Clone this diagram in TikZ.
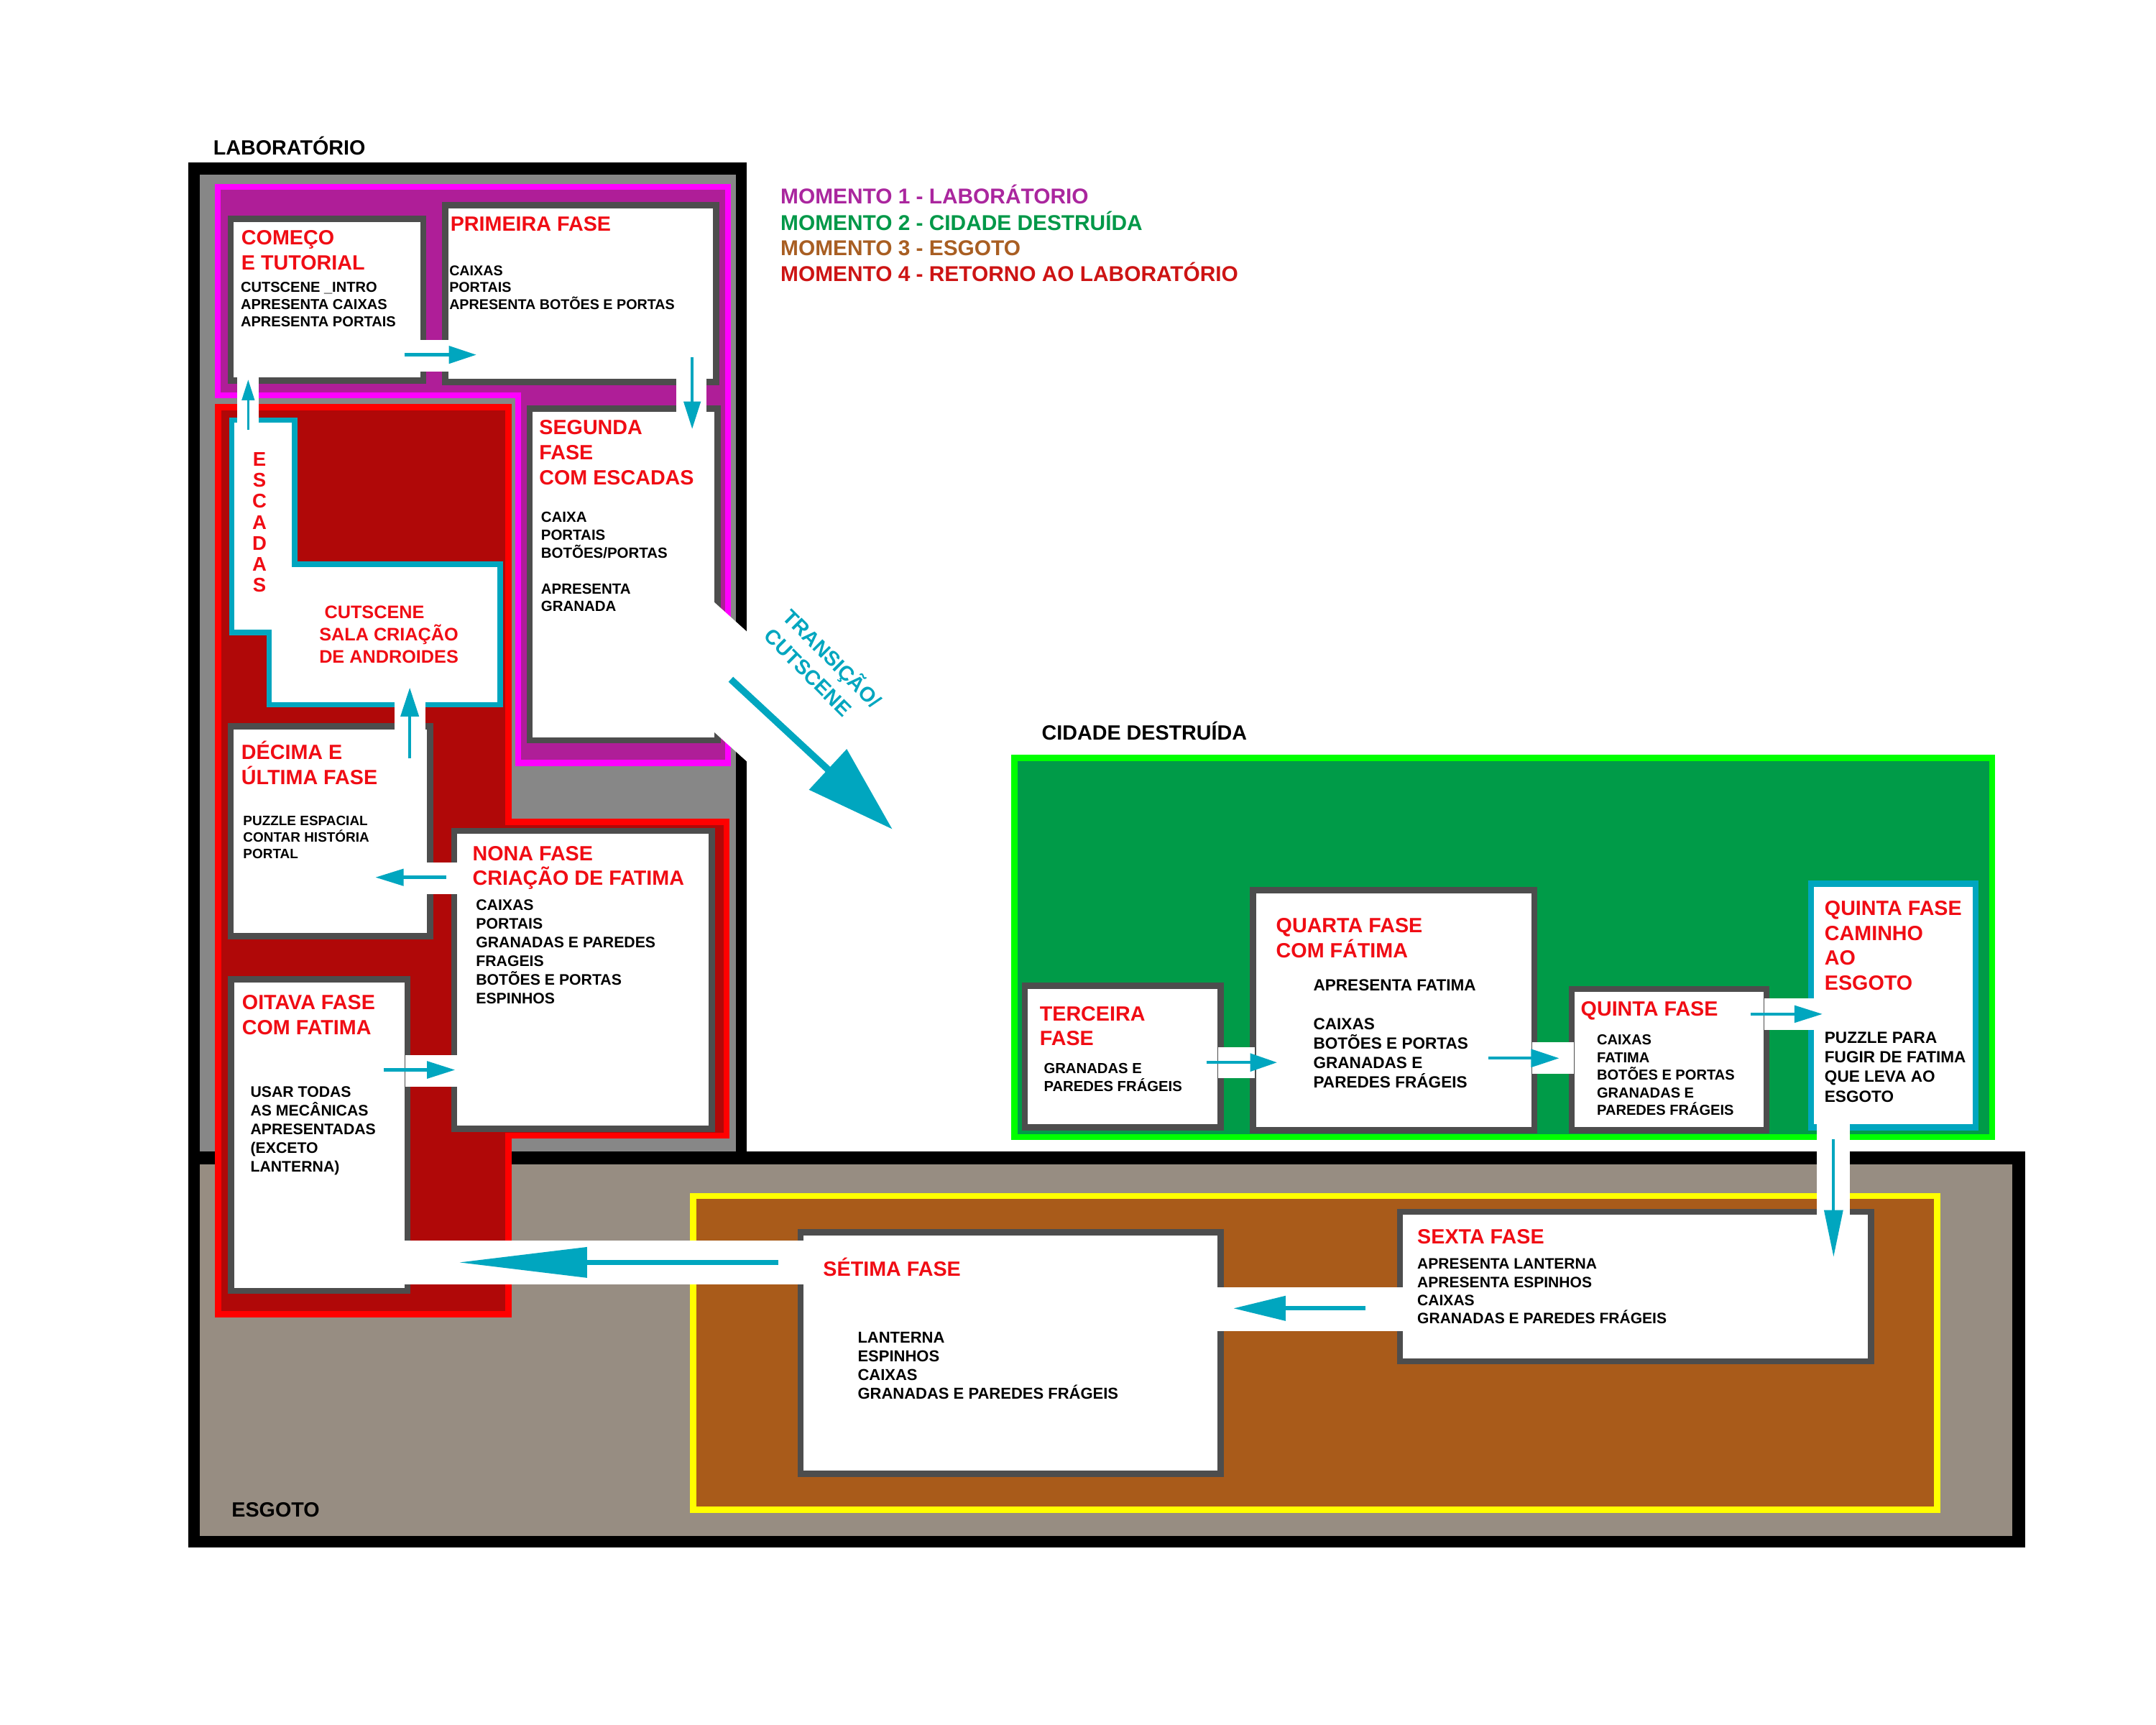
\documentclass[tikz,border=0pt]{standalone}
\usepackage{fontspec}
\setmainfont{Liberation Sans}
\usetikzlibrary{arrows.meta,fit}
\definecolor{labgray}{RGB}{135,135,135}
\definecolor{sewgray}{RGB}{151,141,130}
\definecolor{mag}{RGB}{255,0,255}
\definecolor{purp}{RGB}{175,30,152}
\definecolor{rborder}{RGB}{255,0,0}
\definecolor{dred}{RGB}{176,8,8}
\definecolor{cy}{RGB}{0,166,191}
\definecolor{gborder}{RGB}{0,255,0}
\definecolor{gfill}{RGB}{0,155,72}
\definecolor{yel}{RGB}{255,255,0}
\definecolor{brn}{RGB}{169,91,26}
\definecolor{bxgray}{RGB}{77,77,77}
\definecolor{tred}{RGB}{240,12,20}
\definecolor{leg1}{RGB}{170,38,158}
\definecolor{leg2}{RGB}{0,152,72}
\definecolor{leg3}{RGB}{168,94,34}
\definecolor{leg4}{RGB}{205,20,20}
\tikzset{
  ttl/.style={anchor=base west, inner sep=0pt, text=tred, font=\fontsize{15}{15}\selectfont\bfseries},
  hdr/.style={anchor=base west, inner sep=0pt, text=black, font=\fontsize{15}{15}\selectfont\bfseries},
  lgd/.style={anchor=base west, inner sep=0pt, font=\fontsize{15.6}{15.6}\selectfont\bfseries},
  bd/.style={anchor=base west, inner sep=0pt, text=black, font=\fontsize{#1}{#1}\selectfont\bfseries},
  bd/.default=11,
  esc/.style={anchor=base, inner sep=0pt, text=tred, font=\fontsize{14.4}{14.4}\selectfont\bfseries},
  cut/.style={anchor=base west, inner sep=0pt, text=tred, font=\fontsize{13.2}{13.2}\selectfont\bfseries},
  trn/.style={anchor=center, inner sep=0pt, text=cy, rotate=-45, align=left, font=\fontsize{15}{19.5}\selectfont\bfseries},
  phasebox/.style={draw=bxgray, line width=4.4pt, fill=white, inner sep=0pt, outer sep=0pt},
  exitbox/.style={draw=cy, line width=4.4pt, fill=white, inner sep=0pt, outer sep=0pt},
  band/.style={fill=white, draw=none},
  arr/.style={draw=cy},
}
\newcommand\phase[6]{\node[#2, fit={({#3+2.2},{#4+2.2}) ({#5-2.2},{#6-2.2})}] (#1) {};}
\newcommand\txtlines[6]{\foreach \myln [count=\myi] in {#6} {\node[#2] (#1-\myi) at (#3,{#4+(\myi-1)*(#5)}) {\myln};}}
\newcommand\cyarrow[6]{\coordinate (#1-s) at (#2,#3); \coordinate (#1-e) at (#4,#5); \draw[arr,#6] (#1-s) -- (#1-e);}
\begin{document}
\begin{tikzpicture}[x=1pt,y=-1pt,line join=miter]
\fill[white] (0,0) rectangle (1568,1254);
\useasboundingbox (0,0) rectangle (1568,1254);
% frames
\fill[black] (136.8,118.1) rectangle (543,846.8);
\fill[black] (136.8,837.3) rectangle (1472.6,1125.5);
\fill[labgray] (145.4,126.9) rectangle (535,837.3);
\fill[sewgray] (145.4,846.8) rectangle (1463.5,1117);
% regions
\draw[line width=4.3pt, draw=mag, fill=purp] (158.5,136) -- (529.3,136) -- (529.3,554.8) -- (376.8,554.8) -- (376.8,287.4) -- (158.5,287.4) -- cycle;
\draw[line width=4.5pt, draw=rborder, fill=dred] (158.5,296.2) -- (369.8,296.2) -- (369.8,597.6) -- (528.4,597.6) -- (528.4,825.8) -- (369.8,825.8) -- (369.8,955.8) -- (158.5,955.8) -- cycle;
\draw[line width=4pt, draw=cy, fill=white] (168.5,305.5) -- (214.4,305.5) -- (214.4,410.4) -- (363.8,410.4) -- (363.8,512.5) -- (195.8,512.5) -- (195.8,460) -- (168.5,460) -- cycle;
\draw[line width=4.5pt, draw=gborder, fill=gfill] (737.75,551.25) rectangle (1448.75,826.75);
\draw[line width=4.5pt, draw=yel, fill=brn] (504.25,869.75) rectangle (1408.75,1097.75);
% phase boxes
\phase{comeco}{phasebox}{165.5}{157}{310}{279}
\phase{primeira}{phasebox}{321.5}{147}{523}{280}
\phase{segunda}{phasebox}{383}{295}{524}{540.5}
\phase{decima}{phasebox}{165.5}{526}{315}{683}
\phase{nona}{phasebox}{328}{602}{520}{823}
\phase{oitava}{phasebox}{165.8}{710}{298.5}{941}
\phase{terceira}{phasebox}{743}{714.6}{890}{822}
\phase{quarta}{phasebox}{909}{645}{1118}{824}
\phase{quinta}{phasebox}{1141}{717}{1287}{824}
\phase{caminho}{exitbox}{1315}{640.4}{1439}{822}
\phase{sexta}{phasebox}{1016}{879}{1363}{992}
\phase{setima}{phasebox}{580}{894}{890}{1074}
% white passages
\fill[band] (305,247) rectangle (326.5,270);
\fill[band] (492,275) rectangle (514,300);
\fill[band] (172.5,274) rectangle (188,309);
\fill[band] (287,510) rectangle (309.6,531);
\fill[band] (310.6,627) rectangle (333,650);
\fill[band] (294.6,767) rectangle (333,790);
\fill[band] (517,435.7) -- (546,461.8) -- (546,556.3) -- (517,530.2) -- cycle;
\fill[band] (885.8,761.5) rectangle (912.7,784);
\fill[band] (1114.5,758) rectangle (1144.8,781);
\fill[band] (1283,726) rectangle (1321,749);
\fill[band] (1321.3,817) rectangle (1345.5,884);
\fill[band] (885,936) rectangle (1021,968);
\fill[band] (294,902) rectangle (586,934);
% arrows
\cyarrow{ara}{294}{258}{346.5}{258}{line width=2.3pt,-{Triangle[length=20pt,width=12.5pt]}}
\cyarrow{arb}{503.4}{260}{503.4}{312}{line width=2.3pt,-{Triangle[length=20pt,width=12pt]}}
\cyarrow{arc}{180.5}{312.6}{180.5}{276}{line width=1.8pt,-{Triangle[length=15pt,width=9pt]}}
\cyarrow{ard}{298}{551.6}{298}{500}{line width=2.3pt,-{Triangle[length=21pt,width=13pt]}}
\cyarrow{are}{324.6}{638}{273}{638}{line width=2.3pt,-{Triangle[length=20.5pt,width=12pt]}}
\cyarrow{arf}{279}{778}{331}{778}{line width=2.3pt,-{Triangle[length=20.5pt,width=12.3pt]}}
\cyarrow{arg}{531.5}{494}{649}{603}{line width=5pt,-{Triangle[length=64pt,width=39pt]}}
\cyarrow{arh}{877.5}{772.6}{928.8}{772.6}{line width=2.3pt,-{Triangle[length=19.6pt,width=12.8pt]}}
\cyarrow{ari}{1082.6}{769.5}{1134}{769.5}{line width=2.3pt,-{Triangle[length=20.5pt,width=12.8pt]}}
\cyarrow{arj}{1273}{737.4}{1325.5}{737.4}{line width=2.3pt,-{Triangle[length=20.5pt,width=12.2pt]}}
\cyarrow{ark}{1333.5}{828.5}{1333.5}{914}{line width=2.1pt,-{Triangle[length=34pt,width=13.4pt]}}
\cyarrow{arl}{993}{951.4}{897}{951.4}{line width=3pt,-{Triangle[length=38pt,width=17.5pt]}}
\cyarrow{arm}{566}{918}{333.5}{918}{line width=3.6pt,-{Triangle[length=93.5pt,width=21.4pt]}}
% headers and legend
\node[hdr] (hlab) at (155,112.4) {LABORATÓRIO};
\node[hdr] (hcid) at (757.5,538) {CIDADE DESTRUÍDA};
\node[hdr] (hesg) at (168.3,1103.3) {ESGOTO};
\node[lgd, text=leg1] (lg1) at (567.5,148.1) {MOMENTO 1 - LABORÁTORIO};
\node[lgd, text=leg2] (lg2) at (567.5,167.3) {MOMENTO 2 - CIDADE DESTRUÍDA};
\node[lgd, text=leg3] (lg3) at (567.5,186) {MOMENTO 3 - ESGOTO};
\node[lgd, text=leg4] (lg4) at (567.5,204.8) {MOMENTO 4 - RETORNO AO LABORATÓRIO};
% box texts
\txtlines{tcom}{ttl}{175.4}{177.7}{18.3}{COMEÇO,E TUTORIAL}
\txtlines{bcom}{bd=10.5}{174.9}{212.6}{12.6}{CUTSCENE \_INTRO,APRESENTA CAIXAS,APRESENTA PORTAIS}
\txtlines{tpri}{ttl}{327.4}{168.2}{18}{PRIMEIRA FASE}
\txtlines{bpri}{bd=10.3}{326.6}{200.4}{12.2}{CAIXAS,PORTAIS,APRESENTA BOTÕES E PORTAS}
\txtlines{tseg}{ttl}{392}{316}{18.3}{SEGUNDA,FASE,COM ESCADAS}
\txtlines{bseg}{bd=10.7}{393.3}{379.7}{13.1}{CAIXA,PORTAIS,BOTÕES/PORTAS}
\txtlines{bseg2}{bd=10.7}{393.3}{432}{12.5}{APRESENTA,GRANADA}
\txtlines{tdec}{ttl}{175.4}{552}{18.5}{DÉCIMA E,ÚLTIMA FASE}
\txtlines{bdec}{bd=9.9}{176.7}{600.4}{12}{PUZZLE ESPACIAL,CONTAR HISTÓRIA,PORTAL}
\txtlines{tnon}{ttl}{343.5}{625.7}{17.8}{NONA FASE,CRIAÇÃO DE FATIMA}
\txtlines{bnon}{bd=11.1}{346}{662.2}{13.5}{CAIXAS,PORTAIS,GRANADAS E PAREDES,FRAGEIS,BOTÕES E PORTAS,ESPINHOS}
\txtlines{toit}{ttl}{175.9}{734.3}{17.9}{OITAVA FASE,COM FATIMA}
\txtlines{boit}{bd=11.1}{182}{797.7}{13.6}{USAR TODAS,AS MECÂNICAS,APRESENTADAS,{(EXCETO},{LANTERNA)}}
\txtlines{tter}{ttl}{756}{742.3}{17.9}{TERCEIRA,FASE}
\txtlines{bter}{bd=10.6}{759}{780.7}{12.8}{GRANADAS E,PAREDES FRÁGEIS}
\txtlines{tqua}{ttl}{927.9}{678.3}{17.9}{QUARTA FASE,COM FÁTIMA}
\txtlines{bqua}{bd=11.8}{955}{720.4}{14}{APRESENTA FATIMA}
\txtlines{bqua2}{bd=11.8}{955}{748.7}{14.2}{CAIXAS,BOTÕES E PORTAS,GRANADAS E,PAREDES FRÁGEIS}
\txtlines{tqui}{ttl}{1149.5}{738.9}{18}{QUINTA FASE}
\txtlines{bqui}{bd=10.5}{1161.2}{759.8}{12.8}{CAIXAS,FATIMA,BOTÕES E PORTAS,GRANADAS E,PAREDES FRÁGEIS}
\txtlines{tcam}{ttl}{1326.8}{665.5}{18.15}{QUINTA FASE,CAMINHO,AO,ESGOTO}
\txtlines{bcam}{bd=11.8}{1326.8}{758.7}{14.2}{PUZZLE PARA,FUGIR DE FATIMA,QUE LEVA AO,ESGOTO}
\txtlines{tsex}{ttl}{1030.6}{904.7}{18}{SEXTA FASE}
\txtlines{bsex}{bd=11}{1030.6}{922.8}{13.3}{APRESENTA LANTERNA,APRESENTA ESPINHOS,CAIXAS,GRANADAS E PAREDES FRÁGEIS}
\txtlines{tset}{ttl}{598.5}{928}{18}{SÉTIMA FASE}
\txtlines{bset}{bd=11.5}{623.6}{976.5}{13.7}{LANTERNA,ESPINHOS,CAIXAS,GRANADAS E PAREDES FRÁGEIS}
% escadas and cutscene room
\txtlines{tesc}{esc}{188.7}{339}{15.25}{E,S,C,A,D,A,S}
\node[cut] (cut1) at (235.8,450) {CUTSCENE};
\node[cut] (cut2) at (232,465.8) {SALA CRIAÇÃO};
\node[cut] (cut3) at (232,481.9) {DE ANDROIDES};
% transition label
\node[trn] (trn) at (599.3,485) {TRANSIÇÃO/\\CUTSCENE};
\end{tikzpicture}
\end{document}
